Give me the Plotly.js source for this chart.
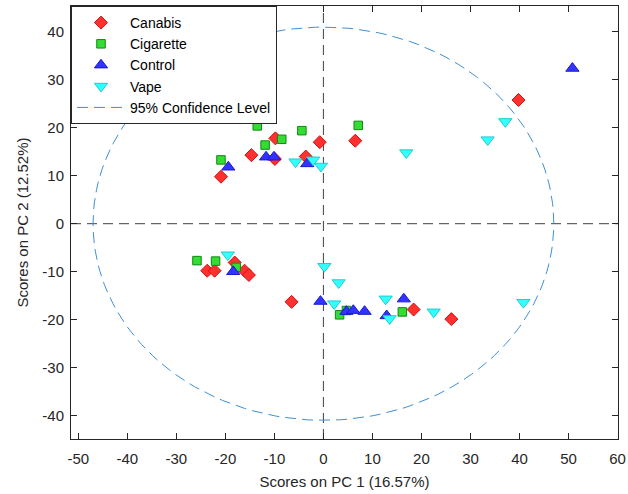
<!DOCTYPE html>
<html>
<head>
<meta charset="utf-8">
<script src="https://cdn.plot.ly/plotly-3.0.1.min.js"></script>
<style>html,body{margin:0;padding:0;background:#fff;}#chart{width:628px;height:494px;}</style>
</head>
<body>
<div id="chart"></div>
<script>
// ---- data ----
const canabisX = [39.8, 6.5, -0.75, -3.6, -9.8, -9.9, -14.7, -20.9, -23.7, -22.2, -18.1, -16.1, -15.2, -6.5, 18.4, 26.1];
const canabisY = [25.8, 17.3, 17.0, 14.0, 17.8, 13.5, 14.3, 9.8, -9.8, -9.8, -8.1, -9.8, -10.7, -16.3, -17.9, -19.9];

const cigaretteX = [-13.5, -11.9, -8.5, -4.4, -20.9, 7.1, -25.8, -22.0, -17.8, 3.3, 4.7, 16.1];
const cigaretteY = [20.4, 16.4, 17.6, 19.4, 13.3, 20.5, -7.7, -7.8, -9.1, -19.0, -18.1, -18.4];

const controlX = [-19.4, -11.7, -10.1, -3.3, 50.8, -18.4, -0.6, 4.7, 6.1, 8.4, 12.9, 16.4];
const controlY = [11.8, 13.9, 13.9, 12.5, 32.4, -10.0, -16.2, -18.3, -18.1, -18.3, -19.2, -15.7];

const vapeX = [-5.7, -2.1, -0.5, 16.9, 33.5, 37.1, -19.5, 0.2, 3.1, 2.2, 12.7, 13.5, 22.5, 40.8];
const vapeY = [12.9, 13.3, 12.0, 14.8, 17.5, 21.3, -6.5, -8.9, -12.3, -16.7, -15.7, -19.8, -18.4, -16.4];

// 95% confidence ellipse (semi-axes)
const ellipseRx = 47;
const ellipseRy = 41;

const groupNames = ["Canabis", "Cigarette", "Control", "Vape", "95% Confidence Level"];
const xTicks = [-50, -40, -30, -20, -10, 0, 10, 20, 30, 40, 50, 60];
const yTicks = [-40, -30, -20, -10, 0, 10, 20, 30, 40];
const xTitle = "Scores on PC 1 (16.57%)";
const yTitle = "Scores on PC 2 (12.52%)";

// ---- build ellipse outline ----
const ex = [], ey = [];
for (let i = 0; i <= 360; i += 2) {
  const t = i * Math.PI / 180;
  ex.push(ellipseRx * Math.cos(t));
  ey.push(ellipseRy * Math.sin(t));
}

const FONT = "Liberation Sans, Arial, Helvetica, sans-serif";

const traces = [
  {x: canabisX, y: canabisY, name: groupNames[0], type: "scatter", mode: "markers",
   marker: {symbol: "diamond", size: 10, color: "#ff3030", line: {color: "#d01010", width: 1}}},
  {x: cigaretteX, y: cigaretteY, name: groupNames[1], type: "scatter", mode: "markers",
   marker: {symbol: "square", size: 8.5, color: "#33dd33", line: {color: "#118811", width: 1}}},
  {x: controlX, y: controlY, name: groupNames[2], type: "scatter", mode: "markers",
   marker: {symbol: "triangle-up", size: 11.5, color: "#3333ff", line: {color: "#1a1acc", width: 1}}},
  {x: vapeX, y: vapeY, name: groupNames[3], type: "scatter", mode: "markers",
   marker: {symbol: "triangle-down", size: 11.5, color: "#33ffff", line: {color: "#22cccc", width: 1}}},
  {x: ex, y: ey, name: groupNames[4], type: "scatter", mode: "lines",
   line: {color: "#3d8fd6", width: 1, dash: "11px,6px"}}
];

const layout = {
  width: 628, height: 494,
  margin: {l: 71, r: 10, t: 6, b: 55},
  paper_bgcolor: "#ffffff", plot_bgcolor: "#ffffff",
  font: {family: FONT, size: 15, color: "#262626"},
  showlegend: true,
  legend: {x: 0, y: 1, xanchor: "left", yanchor: "top",
           bgcolor: "#ffffff", bordercolor: "#262626", borderwidth: 1,
           font: {family: FONT, size: 14, color: "#000000"},
           itemwidth: 48, traceorder: "normal"},
  xaxis: {range: [-51.5, 60.1], tickvals: xTicks, ticktext: xTicks.map(String),
          ticks: "inside", ticklen: 6, tickcolor: "#262626", mirror: "allticks",
          showline: true, linecolor: "#262626", linewidth: 1,
          showgrid: false, zeroline: false, ticklabelstandoff: 6,
          tickfont: {family: FONT, size: 15, color: "#262626"},
          title: {text: xTitle, font: {family: FONT, size: 15, color: "#262626"}, standoff: 10}},
  yaxis: {range: [-44.9, 45.4], tickvals: yTicks, ticktext: yTicks.map(String),
          ticks: "inside", ticklen: 6, tickcolor: "#262626", mirror: "allticks",
          showline: true, linecolor: "#262626", linewidth: 1,
          showgrid: false, zeroline: false, ticklabelstandoff: 3,
          tickfont: {family: FONT, size: 15, color: "#262626"},
          title: {text: yTitle, font: {family: FONT, size: 15, color: "#262626"}, standoff: 10}},
  shapes: [
    {type: "line", xref: "x", yref: "paper", x0: 0, x1: 0, y0: 0, y1: 1,
     line: {color: "#404040", width: 1, dash: "10px,6px"}, layer: "below"},
    {type: "line", xref: "paper", yref: "y", x0: 0, x1: 1, y0: 0, y1: 0,
     line: {color: "#404040", width: 1, dash: "10px,6px"}, layer: "below"}
  ],
  hovermode: false
};

Plotly.newPlot("chart", traces, layout, {displayModeBar: false, staticPlot: true});
</script>
</body>
</html>
